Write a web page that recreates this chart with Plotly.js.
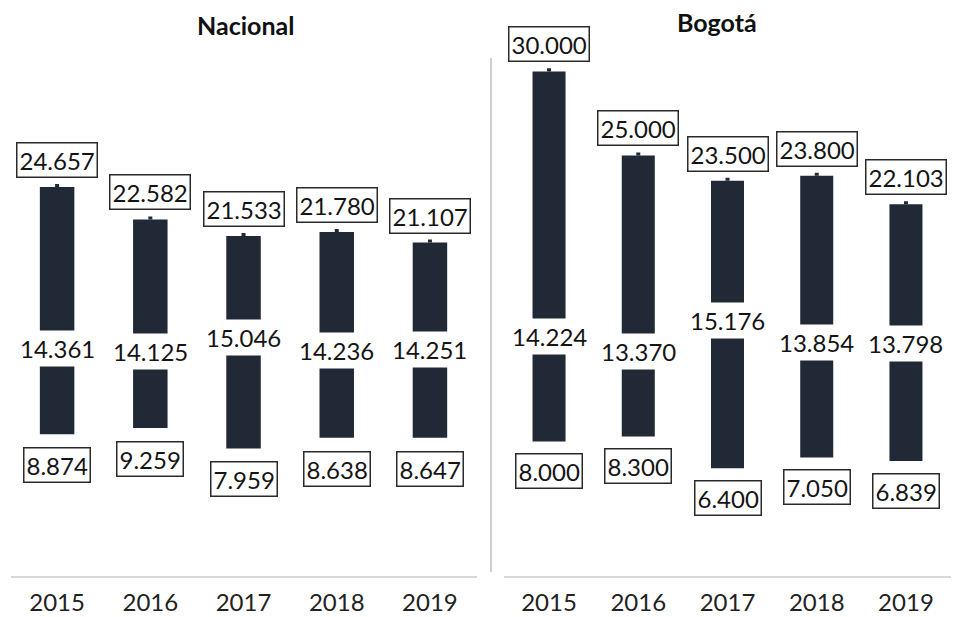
<!DOCTYPE html>
<html><head><meta charset="utf-8">
<script src="https://cdn.plot.ly/plotly-3.0.1.min.js"></script>
<style>html,body{margin:0;padding:0;background:#fff}</style>
</head><body><div id="chart" style="width:968px;height:617px"></div>
<script>
// Data (values in pesos)
const years = ['2015', '2016', '2017', '2018', '2019'];
const nacMax = [24657, 22582, 21533, 21780, 21107];
const nacMed = [14361, 14125, 15046, 14236, 14251];
const nacMin = [8874, 9259, 7959, 8638, 8647];
const bogMax = [30000, 25000, 23500, 23800, 22103];
const bogMed = [14224, 13370, 15176, 13854, 13798];
const bogMin = [8000, 8300, 6400, 7050, 6839];
const panelTitles = ['Nacional', 'Bogotá'];

const FONT = 'Lato, Open Sans, sans-serif';
const BAR = '#212836';
const TXT = '#141414';

function fmt(v) {
  return String(Math.round(v)).replace(/\B(?=(\d{3})+(?!\d))/g, '.');
}

function barTrace(mx, mn, xa, ya, capSize) {
  return {
    type: 'bar', x: years, y: mx.map((v, i) => v - mn[i]), base: mn,
    xaxis: xa, yaxis: ya, width: 0.37,
    marker: {color: BAR, line: {width: 0}},
    error_y: {type: 'data', symmetric: false,
      array: years.map(() => capSize), arrayminus: years.map(() => 0),
      color: BAR, thickness: 4, width: 0},
    hoverinfo: 'skip', showlegend: false
  };
}

const data = [
  barTrace(nacMax, nacMin, 'x', 'y', 190),
  barTrace(bogMax, bogMin, 'x2', 'y2', 180)
];

const annotations = [];
function addLabels(mx, md, mn, xr, yr, minShift) {
  years.forEach((cat, i) => {
    annotations.push({xref: xr, yref: yr, x: i, y: mx[i], text: fmt(mx[i]),
      showarrow: false, yanchor: 'bottom', yshift: 9,
      font: {family: FONT, size: 24, color: TXT},
      bgcolor: '#ffffff', bordercolor: '#2a2a2a', borderwidth: 1.5, borderpad: 2});
    annotations.push({xref: xr, yref: yr, x: i, y: md[i], text: fmt(md[i]),
      showarrow: false, yanchor: 'middle',
      font: {family: FONT, size: 24, color: TXT},
      bgcolor: '#ffffff', borderpad: 3});
    annotations.push({xref: xr, yref: yr, x: i, y: mn[i], text: fmt(mn[i]),
      showarrow: false, yanchor: 'top', yshift: minShift,
      font: {family: FONT, size: 24, color: TXT},
      bgcolor: '#ffffff', bordercolor: '#2a2a2a', borderwidth: 1.5, borderpad: 2});
  });
}
addLabels(nacMax, nacMed, nacMin, 'x', 'y', -13);
addLabels(bogMax, bogMed, bogMin, 'x2', 'y2', -12);

annotations.push({xref: 'paper', yref: 'paper', x: 0.2531, y: 1.009, text: '<b>' + panelTitles[0] + '</b>',
  showarrow: false, xanchor: 'center', yanchor: 'middle', font: {family: FONT, size: 25, color: '#111111'}});
annotations.push({xref: 'paper', yref: 'paper', x: 0.7407, y: 1.0147, text: '<b>' + panelTitles[1] + '</b>',
  showarrow: false, xanchor: 'center', yanchor: 'middle', font: {family: FONT, size: 25, color: '#111111'}});

const xbase = {type: 'category', showgrid: false, zeroline: false, showline: true,
  linecolor: '#d9d9d9', linewidth: 2, ticks: '', fixedrange: true,
  tickfont: {family: FONT, size: 24, color: '#222222'}, ticklabelstandoff: 4};
const ybase = {showgrid: false, zeroline: false, showline: false, showticklabels: false, ticks: '', fixedrange: true};

const layout = {
  width: 968, height: 617,
  margin: {l: 0, r: 0, t: 30, b: 41},
  paper_bgcolor: '#ffffff', plot_bgcolor: '#ffffff',
  showlegend: false, bargap: 0.6,
  xaxis: Object.assign({}, xbase, {domain: [0.01085, 0.4923], anchor: 'y', range: [-0.5, 4.5]}),
  yaxis: Object.assign({}, ybase, {domain: [0, 1], anchor: 'x', range: [-185, 34680]}),
  xaxis2: Object.assign({}, xbase, {domain: [0.5211, 0.9820], anchor: 'y2', range: [-0.5, 4.5]}),
  yaxis2: Object.assign({}, ybase, {domain: [0, 1], anchor: 'x2', range: [0, 32460]}),
  annotations: annotations,
  shapes: [{type: 'line', xref: 'paper', yref: 'paper', x0: 0.5072, x1: 0.5072, y0: 0.0073, y1: 0.9487,
    line: {color: '#cfcfcf', width: 2}}]
};

Plotly.newPlot('chart', data, layout, {displayModeBar: false});
</script></body></html>
